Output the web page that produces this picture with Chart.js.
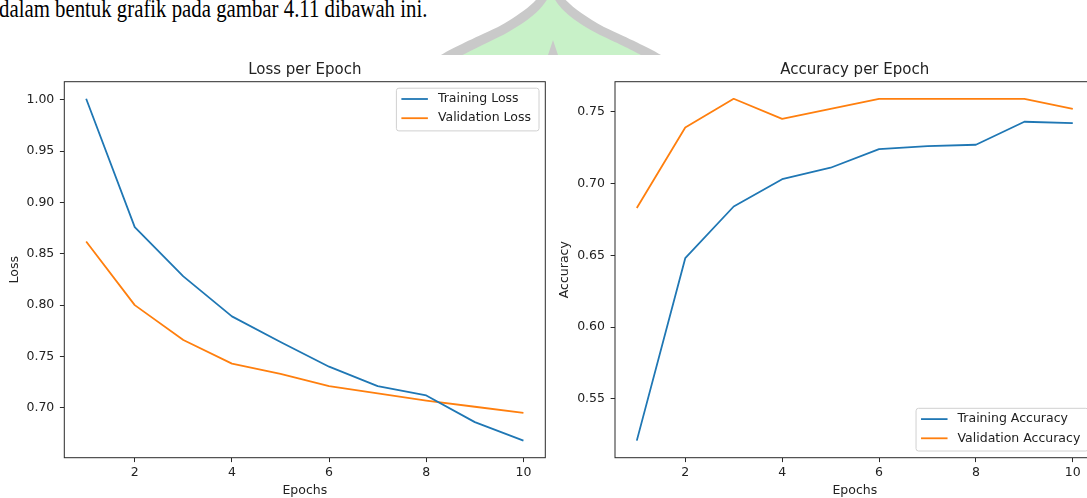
<!DOCTYPE html>
<html>
<head>
<meta charset="utf-8">
<script src="https://cdn.jsdelivr.net/npm/chart.js@4.4.1/dist/chart.umd.min.js"></script>
<style>
html,body{margin:0;padding:0;width:1087px;height:498px;overflow:hidden;background:#fff;}
#page{position:relative;width:1087px;height:498px;overflow:hidden;background:#fff;}
#wm{position:absolute;left:0;top:0;}
#topText{position:absolute;left:-1px;top:-4px;font-family:"Liberation Serif";font-size:26px;line-height:26px;white-space:nowrap;color:#000;transform:scaleX(0.8);transform-origin:0 0;}
.cw{position:absolute;top:55px;height:443px;background:#fff;}
canvas{display:block;}
</style>
</head>
<body>
<div id="page">
  <svg id="wm" width="1087" height="55" viewBox="0 0 1087 55">
    <path d="M550 -22 C542 -2,528 10,498 27 C468 41,452 48,436 58 L666 58 C650 48,634 41,604 27 C574 10,560 -2,550 -22 Z" fill="#c9c9c9"/>
    <path d="M551 -8 C544 8,532 19,503 35 C478 47,468 52,457 58 L646 58 C636 52,626 47,600 35 C570 19,558 8,551 -8 Z" fill="#c8f1c8"/>
    <path d="M553 40 L547 58 L559 58 Z" fill="#c9c9c9"/>
  </svg>
  <div id="topText">dalam bentuk grafik pada gambar 4.11 dibawah ini.</div>
  <div class="cw" style="left:0;width:548px"><canvas id="c1" width="548" height="443"></canvas></div>
  <div class="cw" style="left:548px;width:572px"><canvas id="c2" width="572" height="443"></canvas></div>
</div>
<script>
// ---------- data ----------
const epochs = [1, 2, 3, 4, 5, 6, 7, 8, 9, 10];
const trainLoss = [1.001, 0.876, 0.828, 0.789, 0.764, 0.740, 0.721, 0.712, 0.686, 0.668];
const valLoss   = [0.862, 0.800, 0.766, 0.743, 0.733, 0.721, 0.714, 0.707, 0.701, 0.695];
const trainAcc  = [0.521, 0.648, 0.684, 0.703, 0.711, 0.724, 0.726, 0.727, 0.743, 0.742];
const valAcc    = [0.683, 0.739, 0.759, 0.745, 0.752, 0.759, 0.759, 0.759, 0.759, 0.752];

const xTicks = [2, 4, 6, 8, 10];
const xTickLabels = ['2', '4', '6', '8', '10'];
const lossTicks = [0.70, 0.75, 0.80, 0.85, 0.90, 0.95, 1.00];
const lossTickLabels = ['0.70', '0.75', '0.80', '0.85', '0.90', '0.95', '1.00'];
const accTicks = [0.55, 0.60, 0.65, 0.70, 0.75];
const accTickLabels = ['0.55', '0.60', '0.65', '0.70', '0.75'];

const lossLegend = ['Training Loss', 'Validation Loss'];
const accLegend = ['Training Accuracy', 'Validation Accuracy'];
const chartTitles = ['Loss per Epoch', 'Accuracy per Epoch'];
const xAxisTitle = 'Epochs';
const yAxisTitles = ['Loss', 'Accuracy'];
const seriesColors = ['#1f77b4', '#ff7f0e'];

// ---------- helpers ----------
const FONT = '"DejaVu Sans", "Liberation Sans", sans-serif';
const TXT = '#222222';

function autoRange(arrays) {
  const all = [].concat(...arrays);
  const lo = Math.min(...all), hi = Math.max(...all);
  const m = (hi - lo) * 0.05;
  return [lo - m, hi + m];
}

const decor = {
  id: 'decor',
  afterDraw(chart, args, opts) {
    const ctx = chart.ctx, ca = chart.chartArea;
    ctx.save();
    ctx.strokeStyle = '#2a2a2a';
    ctx.lineWidth = 1;
    ctx.strokeRect(ca.left, ca.top, ca.right - ca.left, ca.bottom - ca.top);
    ctx.fillStyle = TXT;
    ctx.font = '15px ' + FONT;
    ctx.textAlign = 'center';
    ctx.textBaseline = 'alphabetic';
    ctx.fillText(opts.title, (ca.left + ca.right) / 2, ca.top - 7.5);
    ctx.font = '12.5px ' + FONT;
    const items = chart.data.datasets.map(d => ({ label: d.label, color: d.borderColor }));
    const tw = Math.max(...items.map(it => ctx.measureText(it.label).width));
    const padL = 5, hLen = 26.5, gap = 10, padR = 8;
    const w = padL + hLen + gap + tw + padR;
    const h = 42.7;
    const x = ca.right - 6.3 - w;
    const y = opts.legendLoc === 'upper right' ? ca.top + 6.5 : ca.bottom - 6.7 - h;
    ctx.beginPath();
    ctx.roundRect(x, y, w, h, 2.5);
    ctx.fillStyle = 'rgba(255,255,255,0.8)';
    ctx.fill();
    ctx.strokeStyle = '#d0d0d0';
    ctx.lineWidth = 1;
    ctx.stroke();
    items.forEach((it, i) => {
      const ry = y + 10.8 + i * 19.2;
      ctx.beginPath();
      ctx.moveTo(x + padL, ry);
      ctx.lineTo(x + padL + hLen, ry);
      ctx.strokeStyle = it.color;
      ctx.lineWidth = 1.8;
      ctx.stroke();
      ctx.fillStyle = TXT;
      ctx.textAlign = 'left';
      ctx.textBaseline = 'middle';
      ctx.fillText(it.label, x + padL + hLen + gap, ry);
    });
    ctx.restore();
  }
};

function makeChart(id, series, labels, yTicks, yTickLabels, yTitle, title, legendLoc, g) {
  const yr = autoRange(series);
  const xr = autoRange([epochs]);
  const datasets = series.map((s, i) => ({
    label: labels[i],
    data: epochs.map((e, k) => ({ x: e, y: s[k] })),
    borderColor: seriesColors[i],
    backgroundColor: seriesColors[i],
    borderWidth: 1.8,
    pointRadius: 0,
    tension: 0,
    fill: false,
    borderJoinStyle: 'round'
  }));
  return new Chart(document.getElementById(id), {
    type: 'line',
    data: { datasets },
    plugins: [decor],
    options: {
      responsive: false,
      animation: false,
      events: [],
      layout: { padding: { left: 0, top: g.padTop, right: g.padRight, bottom: 0 } },
      plugins: {
        legend: { display: false },
        tooltip: { enabled: false },
        title: { display: false },
        decor: { title, legendLoc }
      },
      scales: {
        x: {
          type: 'linear',
          min: xr[0], max: xr[1],
          afterBuildTicks: s => { s.ticks = xTicks.map(v => ({ value: v })); },
          afterFit: s => { s.height = g.xHeight; },
          ticks: {
            autoSkip: false, maxRotation: 0, padding: 3,
            color: TXT, font: { family: FONT, size: 12.5, lineHeight: 1.2 },
            callback: (v, i) => xTickLabels[i]
          },
          grid: { display: true, drawOnChartArea: false, drawTicks: true, tickLength: 4.4, tickWidth: 1, tickColor: '#2a2a2a', color: '#2a2a2a' },
          border: { display: false },
          title: { display: true, text: xAxisTitle, color: TXT, font: { family: FONT, size: 12.5, lineHeight: 1.2 }, padding: { top: 0, bottom: 0.2 } }
        },
        y: {
          type: 'linear',
          min: yr[0], max: yr[1],
          afterBuildTicks: s => { s.ticks = yTicks.map(v => ({ value: v })); },
          afterFit: s => { s.width = g.yWidth; },
          ticks: {
            autoSkip: false, padding: 5.6,
            color: TXT, font: { family: FONT, size: 12.5, lineHeight: 1.2 },
            callback: (v, i) => yTickLabels[i]
          },
          grid: { display: true, drawOnChartArea: false, drawTicks: true, tickLength: 4.4, tickWidth: 1, tickColor: '#2a2a2a', color: '#2a2a2a' },
          border: { display: false },
          title: { display: true, text: yTitle, color: TXT, font: { family: FONT, size: 12.5, lineHeight: 1.2 }, padding: { top: g.yTitlePad, bottom: 0 } }
        }
      }
    }
  });
}

makeChart('c1', [trainLoss, valLoss], lossLegend, lossTicks, lossTickLabels, yAxisTitles[0], chartTitles[0], 'upper right',
  { padTop: 26.7, padRight: 2.7, yWidth: 64.3, xHeight: 40.3, yTitlePad: 7.5 });
makeChart('c2', [trainAcc, valAcc], accLegend, accTicks, accTickLabels, yAxisTitles[1], chartTitles[1], 'lower right',
  { padTop: 26.7, padRight: 25.4, yWidth: 67, xHeight: 40.3, yTitlePad: 9.5 });
</script>
</body>
</html>
